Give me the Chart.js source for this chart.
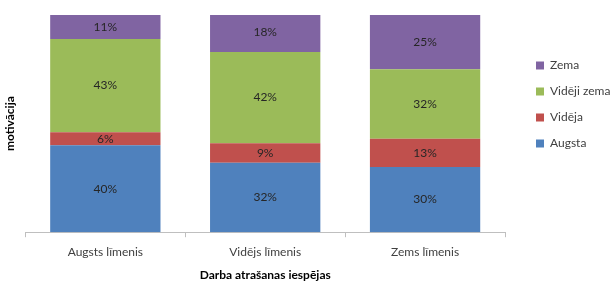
<!DOCTYPE html>
<html>
<head>
<meta charset="utf-8">
<script src="https://cdn.jsdelivr.net/npm/chart.js@4/dist/chart.umd.min.js"></script>
<style>
  html, body { margin: 0; padding: 0; background: #fff; }
  #wrap { width: 613px; height: 282px; }
</style>
</head>
<body>
<div id="wrap"><canvas id="motivChart"></canvas></div>
<script>
// kategorijas un vērtības (%)
const categories = ['Augsts līmenis', 'Vidējs līmenis', 'Zems līmenis'];
const augsta = [40, 32, 30];
const videja = [6, 9, 13];
const videjiZema = [43, 42, 32];
const zema = [11, 18, 25];
const seriesNames = ['Augsta', 'Vidēja', 'Vidēji zema', 'Zema'];
const seriesColors = ['#4F81BD', '#C0504D', '#9BBB59', '#8064A2'];

const fontName = 'Lato, "Open Sans", sans-serif';

// uzraksti joslu vidū
const barLabels = {
    id: 'barLabels',
    afterDatasetsDraw(chart) {
        const ctx = chart.ctx;
        ctx.save();
        ctx.font = '12px ' + fontName;
        ctx.fillStyle = '#262626';
        ctx.textAlign = 'center';
        ctx.textBaseline = 'middle';
        chart.data.datasets.forEach((ds, i) => {
            chart.getDatasetMeta(i).data.forEach((bar, j) => {
                const p = bar.getProps(['x', 'y', 'base'], true);
                ctx.fillText(ds.data[j] + '%', p.x, (p.y + p.base) / 2);
            });
        });
        ctx.restore();
    }
};

// leģendas platums un novietojums
const legendPlace = {
    id: 'legendPlace',
    beforeInit(chart) {
        const legend = chart.legend;
        const origFit = legend.fit;
        legend.fit = function () {
            origFit.call(this);
            this.width = 108;
        };
    },
    afterLayout(chart) {
        const lg = chart.legend;
        lg.left += 17;
        lg.right += 17;
        lg.top -= 44;
        lg.bottom -= 44;
    }
};

const values = [augsta, videja, videjiZema, zema];

const config = {
    type: 'bar',
    data: {
        labels: categories,
        datasets: values.map((v, i) => ({
            label: seriesNames[i],
            data: v,
            backgroundColor: seriesColors[i],
            borderWidth: 0,
            barPercentage: 0.69,
            categoryPercentage: 1
        }))
    },
    options: {
        responsive: true,
        maintainAspectRatio: false,
        animation: false,
        layout: { padding: { top: 15, left: 0, right: 0, bottom: 0 } },
        plugins: {
            legend: {
                position: 'right',
                reverse: true,
                labels: {
                    boxWidth: 8,
                    boxHeight: 8,
                    padding: 14,
                    color: '#404040',
                    font: { family: fontName, size: 12 }
                }
            },
            tooltip: { enabled: false }
        },
        scales: {
            x: {
                stacked: true,
                grid: {
                    offset: true,
                    drawOnChartArea: false,
                    drawTicks: true,
                    tickLength: 5,
                    color: '#BFBFBF'
                },
                border: { color: '#BFBFBF' },
                ticks: { color: '#404040', padding: 8, font: { family: fontName, size: 12 } },
                title: {
                    display: true,
                    text: 'Darba atrašanas iespējas',
                    color: '#000',
                    padding: { top: 0, bottom: 0 },
                    font: { family: fontName, size: 12, weight: 'bold' }
                }
            },
            y: {
                stacked: true,
                min: 0,
                max: 100,
                grid: { display: false },
                border: { display: false },
                ticks: { display: false },
                title: {
                    display: true,
                    text: 'motivācija',
                    color: '#000',
                    padding: { top: 3, bottom: 0 },
                    font: { family: fontName, size: 12, weight: 'bold' }
                }
            }
        }
    },
    plugins: [barLabels, legendPlace]
};

window.addEventListener('DOMContentLoaded', () => {
    new Chart(document.getElementById('motivChart').getContext('2d'), config);
});
</script>
</body>
</html>
